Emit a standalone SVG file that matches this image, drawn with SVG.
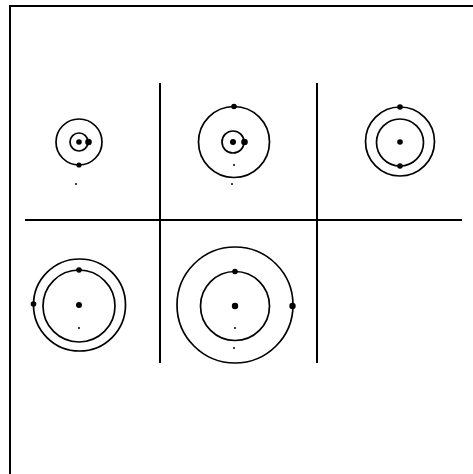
<svg xmlns="http://www.w3.org/2000/svg" width="473" height="474" viewBox="0 0 473 474">
<style>
.ln{stroke:#000;stroke-width:2;fill:none}
.orb{stroke:#000;stroke-width:1.7;fill:none}
.dot{fill:#000}
</style>
<rect width="473" height="474" fill="#fff"/>
<g id="frame">
<line class="ln" x1="10" y1="6" x2="473" y2="6"/>
<line class="ln" x1="10" y1="5" x2="10" y2="474"/>
</g>
<g id="grid">
<line class="ln" x1="160" y1="83" x2="160" y2="363"/>
<line class="ln" x1="317" y1="83" x2="317" y2="363"/>
<line class="ln" x1="25" y1="220" x2="462" y2="220"/>
</g>
<g id="cell1">
<circle class="orb" cx="79" cy="142" r="23"/>
<circle class="orb" cx="79" cy="142" r="9"/>
<circle class="dot" cx="79" cy="142" r="2.8"/>
<circle class="dot" cx="88.5" cy="142" r="3.3"/>
<circle class="dot" cx="79" cy="165" r="2.6"/>
<circle class="dot" cx="76" cy="184" r="1"/>
</g>
<g id="cell2">
<circle class="orb" cx="234" cy="142" r="35.5"/>
<circle class="orb" cx="233" cy="142" r="11"/>
<circle class="dot" cx="233" cy="142" r="3"/>
<circle class="dot" cx="244.5" cy="142" r="3.3"/>
<circle class="dot" cx="234" cy="106.5" r="2.8"/>
<circle class="dot" cx="234" cy="165" r="1"/>
<circle class="dot" cx="232" cy="184" r="1"/>
</g>
<g id="cell3">
<circle class="orb" cx="400" cy="141.5" r="34.5"/>
<circle class="orb" cx="400" cy="142.5" r="23.5"/>
<circle class="dot" cx="400" cy="142" r="2.8"/>
<circle class="dot" cx="400" cy="107" r="2.8"/>
<circle class="dot" cx="400" cy="166" r="2.8"/>
</g>
<g id="cell4">
<circle class="orb" cx="79.5" cy="305" r="46"/>
<circle class="orb" cx="79" cy="306" r="36"/>
<circle class="dot" cx="79" cy="305" r="3"/>
<circle class="dot" cx="33.5" cy="304" r="2.8"/>
<circle class="dot" cx="79" cy="270" r="2.8"/>
<circle class="dot" cx="79" cy="328" r="1"/>
</g>
<g id="cell5">
<circle class="orb" cx="235" cy="305" r="58"/>
<circle class="orb" cx="235" cy="306" r="34.5"/>
<circle class="dot" cx="235" cy="306" r="3.2"/>
<circle class="dot" cx="292.5" cy="306" r="3.2"/>
<circle class="dot" cx="235" cy="271.5" r="2.8"/>
<circle class="dot" cx="235" cy="328" r="1"/>
<circle class="dot" cx="234" cy="348" r="1"/>
</g>
</svg>
